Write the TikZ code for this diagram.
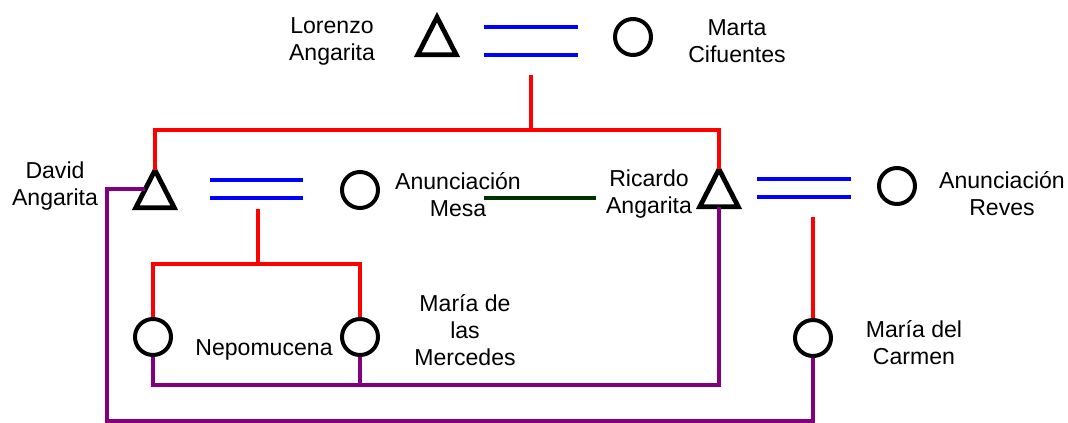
\documentclass[tikz,border=0pt]{standalone}
\usepackage{fontspec}
\setmainfont{Liberation Sans}
\usetikzlibrary{calc}
\begin{document}
\begin{tikzpicture}[x=0.75pt,y=-0.75pt,
  person/.style={circle,draw=black,line width=3pt,minimum size=27pt,inner sep=0pt},
  male/.style={minimum width=28.5pt,minimum height=27.75pt,inner sep=0pt},
  triline/.style={draw=black,line width=3.6pt,line join=miter},
  lbl/.style={align=center,inner sep=0pt,font=\fontsize{17.3}{20.25}\selectfont},
  marr/.style={draw={rgb,255:red,0;green,0;blue,255},line width=3.6pt},
  desc/.style={draw={rgb,255:red,255;green,0;blue,0},line width=3pt},
  rel/.style={draw={rgb,255:red,128;green,0;blue,128},line width=3pt},
  tie/.style={draw={rgb,255:red,0;green,51;blue,0},line width=3pt}]
\useasboundingbox (0,0) rectangle (1068,423);
% people
\node[male] (lorenzo) at (437,36) {};
\node[person] (marta) at (633,37) {};
\node[male] (david) at (155,189) {};
\node[person] (mesa) at (360,190) {};
\node[male] (ricardo) at (719,188) {};
\node[person] (reves) at (897,186) {};
\node[person] (nepo) at (153,337) {};
\node[person] (merc) at (360,337) {};
\node[person] (carmen) at (813,338) {};
\foreach \t in {lorenzo,david,ricardo}
  \draw[triline] (\t.north) -- (\t.south west) -- (\t.south east) -- cycle;
% labels
\node[lbl] (llor) at (332,41) {Lorenzo\\Angarita};
\node[lbl] (lmar) at (737,41) {Marta\\Cifuentes};
\node[lbl] (ldav) at (55,186) {David\\Angarita};
\node[lbl] (lmes) at (458,195) {Anunciación\\Mesa};
\node[lbl] (lric) at (649,194) {Ricardo\\Angarita};
\node[lbl] (lrev) at (1002,194) {Anunciación\\Reves};
\node[lbl] (lnep) at (264,350) {Nepomucena};
\node[lbl] (lmer) at (465,330) {María de\\las\\Mercedes};
\node[lbl] (lcar) at (914,343) {María del\\Carmen};
% marriage lines
\coordinate (a1) at (484,27); \coordinate (a2) at (578,27);
\coordinate (a3) at (484,55); \coordinate (a4) at (578,55);
\draw[marr] (a1) -- (a2); \draw[marr] (a3) -- (a4);
\coordinate (b1) at (210,180); \coordinate (b2) at (303,180);
\coordinate (b3) at (210,198); \coordinate (b4) at (303,198);
\draw[marr] (b1) -- (b2); \draw[marr] (b3) -- (b4);
\coordinate (c1) at (757,179); \coordinate (c2) at (851,179);
\coordinate (c3) at (757,197); \coordinate (c4) at (851,197);
\draw[marr] (c1) -- (c2); \draw[marr] (c3) -- (c4);
% descent lines
\coordinate (s1) at (531,75); \coordinate (bar1) at (531,130);
\draw[desc] (s1) -- (bar1);
\draw[desc] (david.north) |- (bar1) -| (ricardo.north);
\coordinate (s2) at (258,209); \coordinate (bar2) at (258,264);
\draw[desc] (s2) -- (bar2);
\draw[desc] (nepo.north) |- (bar2) -| (merc.north);
\coordinate (s3) at (813,217);
\draw[desc] (s3) -- (carmen.north);
% other relations
\coordinate (g1) at (484,198); \coordinate (g2) at (596,198);
\draw[tie] (g1) -- (g2);
\coordinate (p1) at (719,385);
\draw[rel] (ricardo.south) -- (ricardo.south |- p1) -| (nepo.south);
\draw[rel] (merc.south) -- (merc.south |- p1);
\coordinate (dl) at ($(david.north)!0.5!(david.south west)$);
\coordinate (p2) at (107,421);
\draw[rel] (dl) -| (p2) -| (carmen.south);
\end{tikzpicture}
\end{document}
